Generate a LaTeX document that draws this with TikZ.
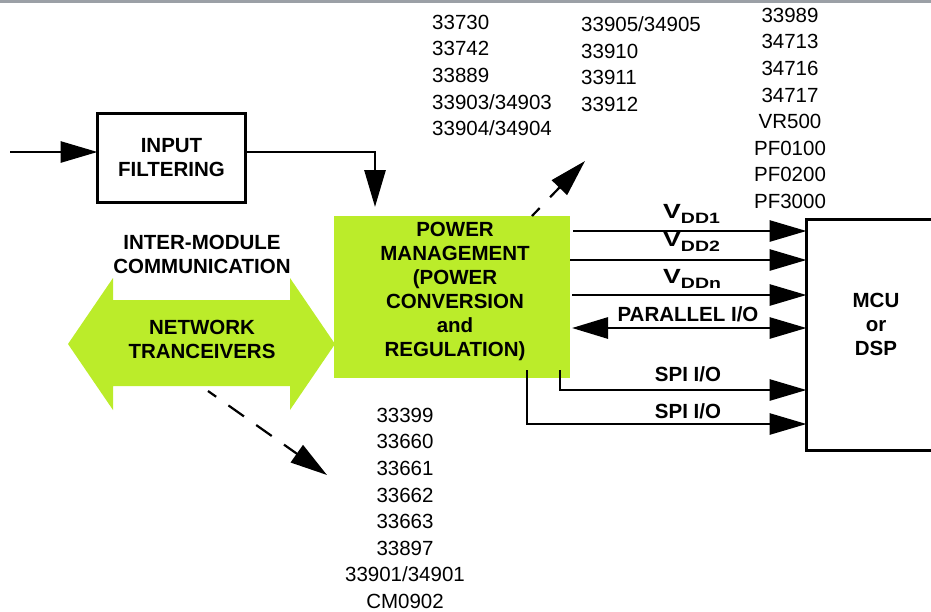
\documentclass[tikz,border=0pt]{standalone}
\usepackage{fontspec}
\setmainfont{Liberation Sans}
\usetikzlibrary{arrows.meta,calc}
\definecolor{pmgreen}{RGB}{187,236,42}
\definecolor{rulegray}{RGB}{155,160,166}
\newcommand{\railname}[1]{\scalebox{1.3}[1]{V\raisebox{-5.5pt}{\fontsize{15}{15}\selectfont #1}}}
\begin{document}
\begin{tikzpicture}[x=1pt,y=-1pt,
  boxed/.style={draw,line width=3pt,outer sep=0pt,inner sep=0pt},
  greenblock/.style={fill=pmgreen,outer sep=0pt,inner sep=0pt},
  lbl/.style={font=\bfseries\fontsize{20.5}{24}\selectfont,align=center,inner sep=0pt},
  plist/.style={font=\fontsize{20.5}{26.6}\selectfont,inner sep=0pt},
  wire/.style={line width=2.9pt},
  sig/.style={wire,-{Triangle[length=37pt,width=21pt]}},
  bisig/.style={wire,{Triangle[length=36pt,width=21pt]}-{Triangle[length=37pt,width=21pt]}},
  hint/.style={line width=2.2pt,dash pattern=on 19pt off 15pt,-{Triangle[length=37pt,width=21pt]}}
]
\useasboundingbox (0,0) rectangle (931,611);
% rule along the top edge
\fill[rulegray] (0,0) rectangle (931,3);

% dashed hint from the network transceivers to their part list
\coordinate (ntout) at (208,391);
\coordinate (dnout) at (327,475);
\draw[hint,dash phase=9pt] (ntout) -- (dnout);

% network transceivers: green double arrow
\fill[pmgreen] (68,344) -- (113,278) -- (113,300) -- (290,300) -- (290,278)
  -- (335,344) -- (290,410) -- (290,386) -- (113,386) -- (113,410) -- cycle;
\node[lbl] (imc) at (202,254) {INTER-MODULE\\COMMUNICATION};
\node[lbl] (ntx) at (202,339.5) {NETWORK\\TRANCEIVERS};

% blocks
\node[boxed,lbl,minimum width=148pt,minimum height=89pt] (inf) at (171.5,158) {INPUT\\FILTERING};
\node[greenblock,minimum width=236pt,minimum height=162pt] (pm) at (452,297) {};
\node[lbl] (pmtext) at (455,291) {POWER\\MANAGEMENT\\(POWER\\CONVERSION\\and\\REGULATION)};
\node[boxed,minimum width=139pt,minimum height=231pt] (mcu) at (876,335) {};
\node[lbl] (mcutext) at (876,324) {MCU\\or\\DSP};

% input path
\coordinate (vin) at (10,152);
\coordinate (pmin) at (375,207);
\draw[sig] (vin) -- (vin -| inf.west);
\draw[sig] (vin -| inf.east) -| (pmin);

% supply rails and I/O to the controller
\draw[sig] ([xshift=3pt,yshift=-15pt]pm.north east) coordinate (o1) -- (o1 -| mcu.west);
\draw[sig] ([yshift=-44pt]pm.north east) coordinate (o2) -- (o2 -| mcu.west);
\draw[sig] ([xshift=2pt,yshift=-79pt]pm.north east) coordinate (o3) -- (o3 -| mcu.west);
\draw[bisig] ([xshift=2pt,yshift=-112pt]pm.north east) coordinate (o4) -- (o4 -| mcu.west);
\draw[sig] ([xshift=-10pt,yshift=8pt]pm.south east) |- ([yshift=60.5pt]mcu.south west);
\draw[sig] ([xshift=-43pt,yshift=8pt]pm.south east) |- ([yshift=26.5pt]mcu.south west);

% dashed hint from power management to its part lists
\coordinate (upout) at (585,161);
\draw[hint,dash phase=8pt] ([xshift=-38pt]pm.north east) -- (upout);

% connector labels
\node[lbl,anchor=base west] (v1) at (663,218) {\railname{DD1}};
\node[lbl,anchor=base west] (v2) at (663,246) {\railname{DD2}};
\node[lbl,anchor=base west] (vn) at (663,283) {\railname{DDn}};
\node[lbl,anchor=base] (pio) at (688,321) {PARALLEL I/O};
\node[lbl,anchor=base] (spi1) at (688,381) {SPI I/O};
\node[lbl,anchor=base] (spi2) at (688,418) {SPI I/O};

% part number lists
\node[plist,align=left,anchor=north west] (listA) at (432,14.7) {33730\\33742\\33889\\33903/34903\\33904/34904};
\node[plist,align=left,anchor=north west] (listB) at (581,16.7) {33905/34905\\33910\\33911\\33912};
\node[plist,align=center,anchor=north] (listC) at (790,7.7) {33989\\34713\\34716\\34717\\VR500\\PF0100\\PF0200\\PF3000};
\node[plist,align=center,anchor=north] (listD) at (405,407.7) {33399\\33660\\33661\\33662\\33663\\33897\\33901/34901\\CM0902};
\end{tikzpicture}
\end{document}
